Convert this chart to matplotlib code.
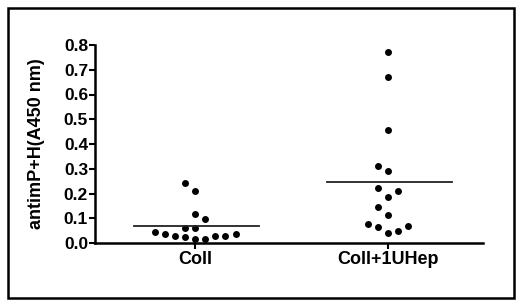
import matplotlib
matplotlib.use("Agg")
import matplotlib.pyplot as plt
from matplotlib.patches import Rectangle

categories = ["Coll", "Coll+1UHep"]
coll_values = [0.244, 0.211, 0.116, 0.097, 0.061, 0.061, 0.046, 0.036, 0.028,
               0.024, 0.018, 0.018, 0.030, 0.030, 0.036]
coll_offsets = [-1, 0, 0, 1, -1, 0, -4, -3, -2, -1, 0, 1, 2, 3, 4]
hep_values = [0.773, 0.672, 0.458, 0.312, 0.290, 0.224, 0.210, 0.187, 0.147,
              0.114, 0.077, 0.066, 0.070, 0.050, 0.039]
hep_offsets = [0, 0, 0, -1, 0, -1, 1, 0, -1, 0, -2, -1, 2, 1, 0]
yticks = [0.0, 0.1, 0.2, 0.3, 0.4, 0.5, 0.6, 0.7, 0.8]

plt.rcParams['font.family'] = ['Liberation Sans', 'DejaVu Sans']

fig = plt.figure(figsize=(5.2, 3.06), dpi=100)
ax = fig.add_axes([95/520, (306-243)/306, (483-95)/520, (243-45)/306])

step = 0.052
groups = [coll_values, hep_values]
offsets = [coll_offsets, hep_offsets]
for i, (vals, offs) in enumerate(zip(groups, offsets)):
    xs = [i + o * step for o in offs]
    ax.plot(xs, vals, 'o', color='black', markersize=5, markeredgewidth=0, clip_on=False)
    m = sum(vals) / len(vals)
    ax.plot([i - 0.32, i + 0.33], [m, m], color='#222222', linewidth=1.3)

ax.set_xlim(-0.52, 1.49)
ax.set_ylim(0, 0.8)
ax.set_yticks(yticks)
ax.set_yticklabels([f"{t:.1f}" for t in yticks], fontsize=12.5, fontweight='bold')
ax.set_xticks([0, 1])
ax.set_xticklabels(categories, fontsize=13, fontweight='bold')
ax.set_ylabel("antimP+H(A450 nm)", fontsize=13, fontweight='bold')
ax.yaxis.set_label_coords(-0.129, 0.5)

for s in ['top', 'right']:
    ax.spines[s].set_visible(False)
for s in ['left', 'bottom']:
    ax.spines[s].set_linewidth(1.8)
ax.tick_params(axis='y', direction='out', length=4, width=1.5, pad=1)
ax.tick_params(axis='x', direction='out', length=4, width=1.5, pad=2)

fig.patches.append(Rectangle((8/520, 8/306), (514-8)/520, (298-8)/306,
                             transform=fig.transFigure, fill=False,
                             edgecolor='black', linewidth=1.8))

fig.savefig("out.png", dpi=100)
